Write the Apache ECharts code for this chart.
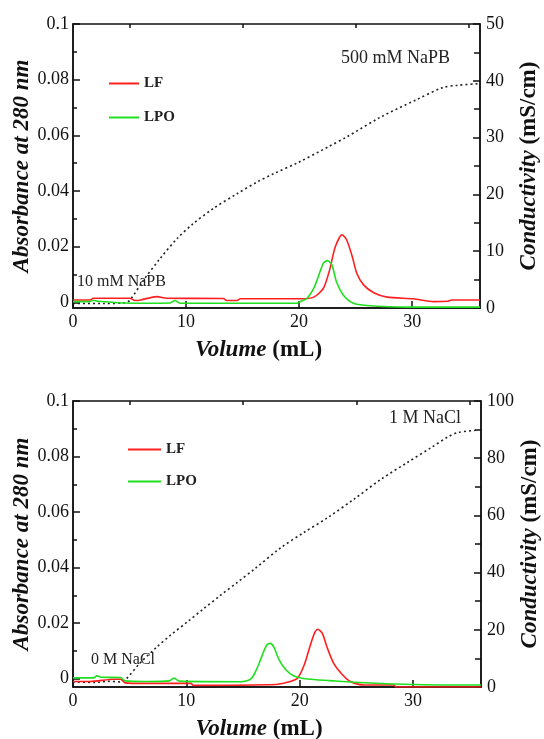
<!DOCTYPE html>
<html>
<head>
<meta charset="utf-8">
<script src="https://cdn.jsdelivr.net/npm/echarts@6/dist/echarts.min.js"></script>
<style>
  html, body { margin: 0; padding: 0; background: #fff; }
  #main { width: 544px; height: 739px; }
</style>
</head>
<body>
<div id="main"></div>
<script>
// top panel (NaPB gradient)
var topLFVol  = [0, 1.5, 1.8, 5.0, 5.5, 6.0, 7.4, 8.3, 13.3, 13.6, 14.5, 14.8, 20.1, 21.3, 22.15, 22.7, 23.2, 23.8, 24.2, 24.7, 25.1, 25.7, 26.6, 27.8, 30.1, 31.9, 33.1, 33.5, 36];
var topLFAbs  = [0.0009, 0.0009, 0.0015, 0.0015, 0.0007, 0.0009, 0.0021, 0.0015, 0.0014, 0.0007, 0.0007, 0.0013, 0.0013, 0.0019, 0.0051, 0.0117, 0.0200, 0.0243, 0.0225, 0.0165, 0.0105, 0.0063, 0.0035, 0.0019, 0.0013, 0.0003, 0.0004, 0.0009, 0.0009];
var topLPOVol = [0, 1.5, 1.8, 2.2, 5.1, 8.6, 9.0, 9.5, 19.8, 20.1, 20.7, 21.3, 21.7, 22.15, 22.5, 22.9, 23.3, 23.9, 24.8, 26.0, 29.5, 36];
var topLPOAbs = [0.0003, 0.0003, 0.0008, 0.0004, -0.0003, -0.0002, 0.0007, -0.0003, -0.0003, 0.0003, 0.0015, 0.0051, 0.0093, 0.0141, 0.0150, 0.0135, 0.0075, 0.0027, -0.0003, -0.0011, -0.0017, -0.0017];
var topCondVol = [0, 2.7, 4.5, 5.0, 6.2, 7.7, 9.2, 10.6, 12.4, 14.5, 16.3, 17.7, 19.9, 22.6, 24.2, 27.2, 30.3, 32.7, 34.0, 35.9];
var topCond    = [0.8, 0.8, 0.9, 1.3, 4.8, 8.7, 12.2, 14.8, 17.5, 20.1, 22.2, 23.6, 25.6, 28.4, 30.1, 33.6, 36.6, 38.8, 39.2, 39.5];

// bottom panel (NaCl gradient)
var botLFVol  = [0, 1.5, 3.6, 4.2, 4.6, 6.2, 10.4, 10.6, 17.9, 18.9, 19.8, 20.4, 20.9, 21.3, 21.6, 22.0, 22.4, 23.0, 23.8, 24.5, 25.7, 28.3, 28.5, 36];
var botLFAbs  = [-0.001, -0.001, -0.0002, -0.0002, -0.0015, -0.0017, -0.0017, -0.0024, -0.0021, -0.0013, 0.0001, 0.0049, 0.0115, 0.0163, 0.0178, 0.0163, 0.0115, 0.0055, 0.0013, -0.0011, -0.0023, -0.0023, -0.003, -0.003];
var botLPOVol = [0, 1.8, 2.1, 2.5, 4.2, 4.6, 6.5, 8.5, 8.9, 9.4, 14.8, 15.7, 16.3, 16.7, 17.1, 17.4, 17.7, 18.2, 18.8, 19.5, 20.7, 22.7, 24.8, 28.3, 34.2, 36];
var botLPOAbs = [0.0003, 0.0003, 0.001, 0.0005, 0.0004, -0.0008, -0.001, -0.0008, 0.0002, -0.0009, -0.0011, -0.0001, 0.0043, 0.0085, 0.0121, 0.0127, 0.0115, 0.0067, 0.0031, 0.001, -0.0001, -0.0007, -0.0013, -0.0019, -0.0023, -0.0023];
var botCondVol = [0, 2.0, 3.0, 4.2, 4.6, 5.9, 7.4, 8.6, 10.1, 11.5, 13.0, 14.5, 16.0, 18.3, 20.4, 22.5, 24.8, 27.2, 29.5, 31.6, 33.1, 34.0, 35.7];
var botCond    = [1.8, 1.6, 2.0, 1.8, 2.4, 8.3, 14.0, 18.1, 22.8, 27.3, 32.0, 36.6, 41.2, 48.6, 54.1, 59.3, 65.7, 72.7, 78.5, 83.7, 87.5, 89.0, 89.8];

var xMajor = [0, 10, 20, 30];
var xMinor = [5, 15, 25, 35];
var absMajor = [0, 0.02, 0.04, 0.06, 0.08, 0.1];
var absMinor = [0.01, 0.03, 0.05, 0.07, 0.09];

function pairs(xs, ys) {
    var out = [];
    for (var i = 0; i < xs.length; i++) out.push([xs[i], ys[i]]);
    return out;
}

var serif = "'Liberation Serif', 'Times New Roman', serif";
var ink = '#111';
var red = '#ff1f1f', green = '#1ee01e';

function xAxes(grid) {
    return [{
        type: 'value', gridIndex: grid, min: 0, max: 36,
        axisLine: { onZero: false, lineStyle: { color: ink, width: 1.5 } },
        axisTick: { inside: true, length: 7, customValues: xMajor, lineStyle: { color: ink, width: 1.5 } },
        axisLabel: { customValues: xMajor, margin: 5, fontFamily: serif, fontSize: 18, color: ink },
        splitLine: { show: false },
        name: '{i|Volume} {b|(mL)}', nameLocation: 'middle', nameGap: 31, nameMoveOverlap: false,
        nameTextStyle: {
            fontFamily: serif, fontSize: 23, fontWeight: 'bold', color: ink, padding: [0, 36, 0, 0],
            rich: {
                i: { fontFamily: serif, fontSize: 23, fontWeight: 'bold', fontStyle: 'italic', color: ink },
                b: { fontFamily: serif, fontSize: 23, fontWeight: 'bold', color: ink }
            }
        }
    }, {
        type: 'value', gridIndex: grid, min: 0, max: 36,
        axisLine: { show: false, onZero: false },
        axisTick: { inside: true, length: 4, customValues: xMinor, lineStyle: { color: ink, width: 1.5 } },
        axisLabel: { show: false },
        splitLine: { show: false }
    }];
}

function yAxes(grid, absMin, condMax, condStep) {
    return [{
        type: 'value', gridIndex: grid, position: 'left', min: absMin, max: 0.1,
        axisLine: { show: true, onZero: false, lineStyle: { color: ink, width: 1.5 } },
        axisTick: { inside: true, length: 7, customValues: absMajor, lineStyle: { color: ink, width: 1.5 } },
        axisLabel: { customValues: absMajor, margin: 4, fontFamily: serif, fontSize: 18, color: ink },
        splitLine: { show: false },
        name: 'Absorbance at 280 nm', nameLocation: 'middle', nameGap: 39, nameMoveOverlap: false,
        nameTextStyle: { fontFamily: serif, fontSize: 23, fontWeight: 'bold', fontStyle: 'italic', color: ink }
    }, {
        type: 'value', gridIndex: grid, position: 'left', min: absMin, max: 0.1,
        axisLine: { show: false, onZero: false },
        axisTick: { inside: true, length: 4, customValues: absMinor, lineStyle: { color: ink, width: 1.5 } },
        axisLabel: { show: false },
        splitLine: { show: false }
    }, {
        type: 'value', gridIndex: grid, position: 'right', min: 0, max: condMax, interval: condStep,
        axisLine: { show: true, onZero: false, lineStyle: { color: ink, width: 1.5 } },
        axisTick: { inside: true, length: 7, lineStyle: { color: ink, width: 1.5 } },
        minorTick: { show: true, splitNumber: 2, length: 6, lineStyle: { color: ink, width: 1.5 } },
        axisLabel: { margin: 6, fontFamily: serif, fontSize: 18, color: ink },
        splitLine: { show: false },
        name: '{i|Conductivity} {b|(mS/cm)}', nameLocation: 'middle', nameGap: 38, nameMoveOverlap: false,
        nameTextStyle: {
            fontFamily: serif, fontSize: 23, fontWeight: 'bold', color: ink,
            rich: {
                i: { fontFamily: serif, fontSize: 23, fontWeight: 'bold', fontStyle: 'italic', color: ink },
                b: { fontFamily: serif, fontSize: 23, fontWeight: 'bold', color: ink }
            }
        }
    }];
}

function absSeries(name, color, data, xi, yi) {
    return {
        name: name, type: 'line', xAxisIndex: xi, yAxisIndex: yi,
        data: data, symbol: 'none', smooth: 0.25,
        lineStyle: { color: color, width: 1.6 }, itemStyle: { color: color }
    };
}

function condSeries(data, xi, yi) {
    return {
        name: 'Conductivity', type: 'line', xAxisIndex: xi, yAxisIndex: yi,
        data: data, symbol: 'none', smooth: 0.3,
        lineStyle: { color: '#222', width: 1.6, type: [2, 3] }, itemStyle: { color: '#222' }
    };
}

function legendAt(left, top, w, gap) {
    return {
        data: ['LF', 'LPO'], orient: 'vertical', left: left, top: top, padding: 0,
        icon: 'rect', itemWidth: w, itemHeight: 2, itemGap: gap,
        textStyle: { fontFamily: serif, fontWeight: 'bold', fontSize: 15, color: '#222' }
    };
}

function note(text, x, y, size) {
    return {
        type: 'text', x: x, y: y,
        style: { text: text, font: size + 'px ' + serif, fill: '#222', verticalAlign: 'middle' }
    };
}

var myChart = echarts.init(document.getElementById('main'));
var option = {
    animation: false,
    backgroundColor: '#fff',
    grid: [
        { left: 73, right: 64, top: 24, height: 284, outerBoundsMode: 'none', show: true, borderColor: ink, borderWidth: 1.5, backgroundColor: 'transparent' },
        { left: 73, right: 63, top: 401, height: 286, outerBoundsMode: 'none', show: true, borderColor: ink, borderWidth: 1.5, backgroundColor: 'transparent' }
    ],
    xAxis: xAxes(0).concat(xAxes(1)),
    yAxis: yAxes(0, -0.002, 50, 10).concat(yAxes(1, -0.003, 100, 20)),
    legend: [legendAt(109, 76, 30, 19), legendAt(128, 442, 33, 17)],
    graphic: [
        note('500 mM NaPB', 341, 58, 18),
        note('10 mM NaPB', 77, 282, 16),
        note('1 M NaCl', 389, 418, 18),
        note('0 M NaCl', 91, 660, 16)
    ],
    series: [
        condSeries(pairs(topCondVol, topCond), 0, 2),
        absSeries('LF', red, pairs(topLFVol, topLFAbs), 0, 0),
        absSeries('LPO', green, pairs(topLPOVol, topLPOAbs), 0, 0),
        condSeries(pairs(botCondVol, botCond), 2, 5),
        absSeries('LF', red, pairs(botLFVol, botLFAbs), 2, 3),
        absSeries('LPO', green, pairs(botLPOVol, botLPOAbs), 2, 3)
    ]
};
myChart.setOption(option);
window.addEventListener('resize', function () {
    myChart.resize();
});
</script>
</body>
</html>
